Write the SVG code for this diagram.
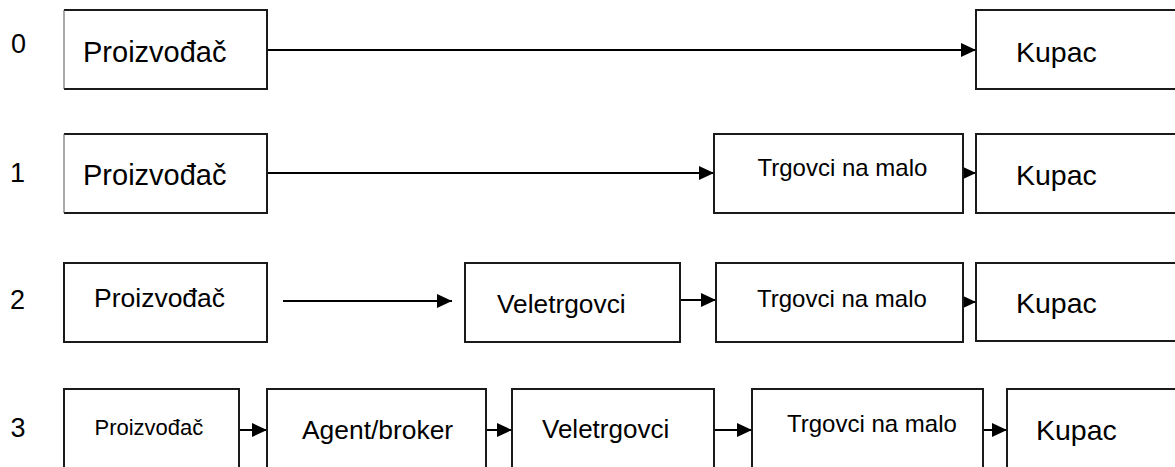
<svg xmlns="http://www.w3.org/2000/svg" width="1175" height="467" viewBox="0 0 1175 467">
<style>
.box{fill:#fff;stroke:#1a1a1a;stroke-width:2}
.lft{fill:none;stroke:#555;stroke-width:1}
.edge{fill:none;stroke:#1a1a1a;stroke-width:2}
.conn{fill:none;stroke:#000;stroke-width:2;marker-end:url(#ah)}
text{font-family:"Liberation Sans",Arial,sans-serif;fill:#000}
.num{font-size:27px}
</style>
<defs>
<marker id="ah" markerUnits="userSpaceOnUse" viewBox="0 0 15 14" refX="15" refY="7" markerWidth="15" markerHeight="14" orient="auto">
<path d="M0,0 L15,7 L0,14 z" fill="#000"/>
</marker>
</defs>
<rect width="1175" height="467" fill="#fff"/>
<g id="labels">
<text class="num" x="11" y="53">0</text>
<text class="num" x="10" y="182">1</text>
<text class="num" x="10" y="309">2</text>
<text class="num" x="10.5" y="437">3</text>
</g>
<g id="connectors">
<path class="conn" d="M267,50 L976,50"/>
<path class="conn" d="M267,173 L714,173"/>
<path class="conn" d="M963,173 L976,173"/>
<path class="conn" d="M283,301 L452,301"/>
<path class="conn" d="M680,300 L716,300"/>
<path class="conn" d="M963,302 L976,302"/>
<path class="conn" d="M239,430 L267,430"/>
<path class="conn" d="M486,430 L512,430"/>
<path class="conn" d="M714,430 L752,430"/>
<path class="conn" d="M983,430 L1007,430"/>
</g>
<g id="r0-proizvodac">
<rect x="64" y="10" width="203" height="79" fill="#fff"/>
<path class="edge" d="M64,10 L267,10 L267,89 L64,89"/>
<path class="lft" d="M64,10 L64,89"/>
<text x="83" y="62" font-size="29">Proizvođač</text>
</g>
<g id="r0-kupac">
<rect class="box" x="976" y="10" width="210" height="79"/>
<text x="1016" y="62" font-size="28.5">Kupac</text>
</g>
<g id="r1-proizvodac">
<rect x="64" y="134" width="203" height="79" fill="#fff"/>
<path class="edge" d="M64,134 L267,134 L267,213 L64,213"/>
<path class="lft" d="M64,134 L64,213"/>
<text x="83" y="185" font-size="29">Proizvođač</text>
</g>
<g id="r1-trgovci">
<rect class="box" x="714" y="134" width="249" height="79"/>
<text x="757.5" y="176" font-size="24">Trgovci na malo</text>
</g>
<g id="r1-kupac">
<rect class="box" x="976" y="134" width="210" height="79"/>
<text x="1016" y="185" font-size="28.5">Kupac</text>
</g>
<g id="r2-proizvodac">
<rect class="box" x="64" y="263" width="203" height="79"/>
<text x="94" y="307" font-size="26.5">Proizvođač</text>
</g>
<g id="r2-veletrgovci">
<rect class="box" x="465" y="263" width="215" height="79"/>
<text x="497" y="313" font-size="26.3">Veletrgovci</text>
</g>
<g id="r2-trgovci">
<rect class="box" x="716" y="263" width="247" height="79"/>
<text x="757" y="307" font-size="24">Trgovci na malo</text>
</g>
<g id="r2-kupac">
<rect class="box" x="976" y="263" width="210" height="78"/>
<text x="1016" y="313" font-size="28.5">Kupac</text>
</g>
<g id="r3-proizvodac">
<rect class="box" x="64" y="389" width="175" height="90"/>
<text x="94.5" y="435" font-size="22">Proizvođač</text>
</g>
<g id="r3-agent">
<rect class="box" x="267" y="389" width="219" height="90"/>
<text x="302" y="439" font-size="26.4">Agent/broker</text>
</g>
<g id="r3-veletrgovci">
<rect class="box" x="512" y="389" width="202" height="90"/>
<text x="542" y="438" font-size="26">Veletrgovci</text>
</g>
<g id="r3-trgovci">
<rect class="box" x="752" y="389" width="231" height="90"/>
<text x="787" y="432" font-size="24">Trgovci na malo</text>
</g>
<g id="r3-kupac">
<rect class="box" x="1007" y="389" width="180" height="90"/>
<text x="1036" y="440" font-size="28.5">Kupac</text>
</g>
</svg>
